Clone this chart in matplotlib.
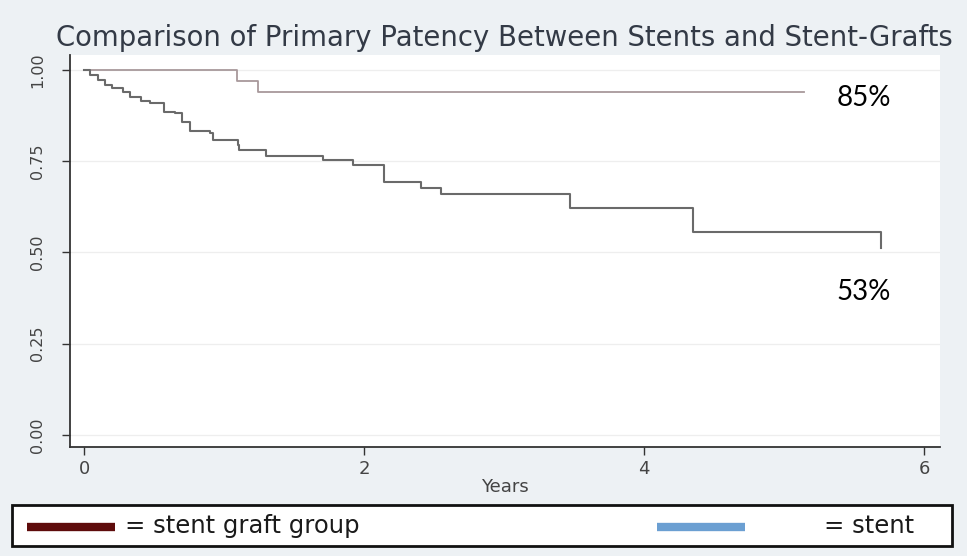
import matplotlib
matplotlib.use("Agg")
import matplotlib.pyplot as plt
from matplotlib.patches import Rectangle
from matplotlib.lines import Line2D

# Kaplan-Meier primary patency estimates (years, survival fraction)
graft_years = [0.0, 1.09, 1.24, 5.14]
graft_patency = [1.0, 0.971, 0.939, 0.939]

stent_years = [0.0, 0.04, 0.10, 0.15, 0.20, 0.28, 0.33, 0.41, 0.47, 0.57, 0.65,
               0.70, 0.76, 0.90, 0.92, 1.10, 1.11, 1.30, 1.71, 1.92, 2.14, 2.41,
               2.55, 3.47, 4.35, 5.69]
stent_patency = [1.0, 0.986, 0.973, 0.959, 0.95, 0.94, 0.927, 0.916, 0.909, 0.886,
                 0.881, 0.858, 0.834, 0.827, 0.808, 0.795, 0.78, 0.764, 0.753,
                 0.74, 0.692, 0.676, 0.66, 0.621, 0.557, 0.512]

x_ticks = [0, 2, 4, 6]
y_ticks = [0.0, 0.25, 0.50, 0.75, 1.00]
y_tick_labels = ["0.00", "0.25", "0.50", "0.75", "1.00"]

title = "Comparison of Primary Patency Between Stents and Stent-Grafts"
graft_label = "85%"
stent_label = "53%"

W, H = 967, 556
fig = plt.figure(figsize=(W / 100, H / 100), dpi=100, facecolor="#edf1f4")

def fx(px):
    return px / W

def fy(py):
    return 1 - py / H

ax = fig.add_axes([fx(70), fy(447), fx(940) - fx(70), fy(55) - fy(447)])
ax.set_facecolor("white")

ax.plot(graft_years, graft_patency, drawstyle="steps-post", color="#a8999b", lw=1.3)
ax.plot(stent_years, stent_patency, drawstyle="steps-post", color="#6a6a6a", lw=1.5)

ax.set_xlim(-0.1, 6.114)
ax.set_ylim(-0.033, 1.041)
ax.set_xticks(x_ticks)
ax.set_yticks(y_ticks)
ax.set_yticklabels(y_tick_labels, rotation=90, va="center")
ax.grid(axis="y", color="#eeeeee", lw=0.9)
ax.set_axisbelow(True)

for s in ["top", "right"]:
    ax.spines[s].set_visible(False)
for s in ["left", "bottom"]:
    ax.spines[s].set_color("#333333")
    ax.spines[s].set_linewidth(1.3)
ax.tick_params(axis="both", colors="#333333", labelcolor="#444444",
               length=6, width=1.0)
ax.tick_params(axis="x", labelsize=13, pad=3)
ax.tick_params(axis="y", labelsize=11.5, pad=12)
ax.set_xlabel("Years", fontsize=13, color="#444444", labelpad=0)

fig.text(fx(504), fy(38), title, ha="center", va="center", fontsize=19.8,
         color="#333a46", family="DejaVu Sans")

fig.text(fx(864), fy(98), graft_label, ha="center", va="center",
         fontsize=20, family="Lato", color="black")
fig.text(fx(864), fy(292), stent_label, ha="center", va="center",
         fontsize=20, family="Lato", color="black")

# key box beneath the plot
fig.add_artist(Rectangle((fx(12), fy(546)), fx(952) - fx(12), fy(505) - fy(546),
                         transform=fig.transFigure, facecolor="white",
                         edgecolor="#111111", lw=2.0))
fig.add_artist(Line2D([fx(27), fx(115)], [fy(527), fy(527)],
                      transform=fig.transFigure, color="#5e0b0b", lw=6,
                      solid_capstyle="butt"))
fig.add_artist(Line2D([fx(657), fx(745)], [fy(527), fy(527)],
                      transform=fig.transFigure, color="#6b9fd2", lw=6,
                      solid_capstyle="butt"))
fig.text(fx(125), fy(526), "= stent graft group", ha="left", va="center",
         fontsize=17.5, color="#1a1a1a", family="DejaVu Sans")
fig.text(fx(824), fy(526), "= stent", ha="left", va="center",
         fontsize=17.5, color="#1a1a1a", family="DejaVu Sans")

fig.savefig("out.png", dpi=100, facecolor=fig.get_facecolor())
